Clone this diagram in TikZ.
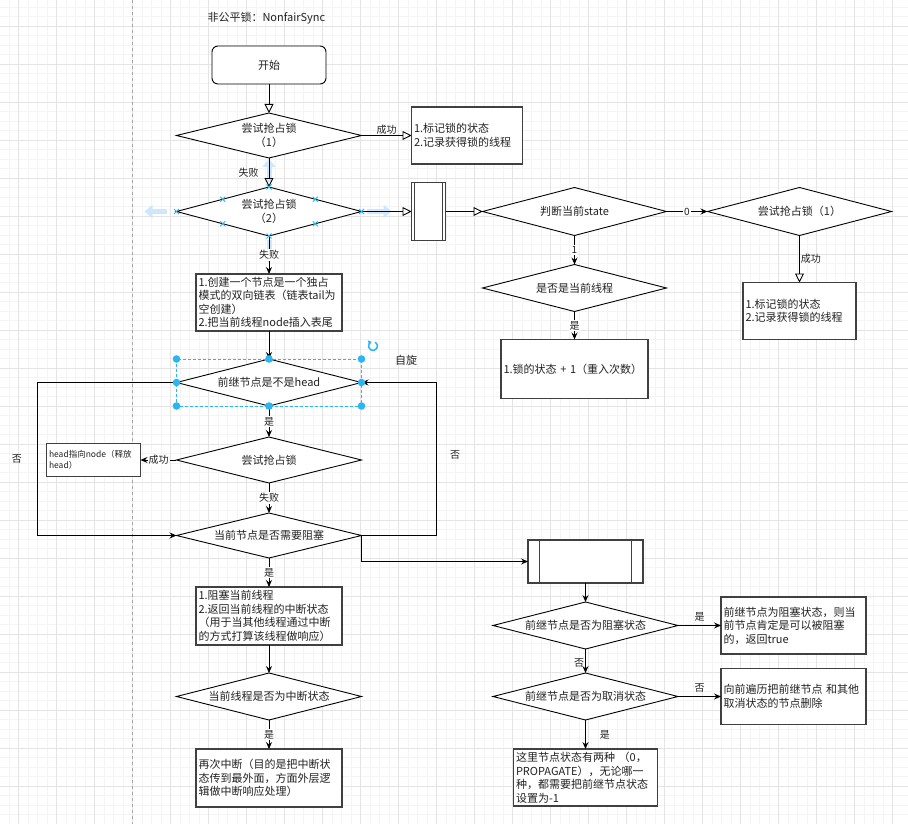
\documentclass[tikz,border=0pt]{standalone}
\usepackage{fontspec}
\setmainfont{Noto Sans CJK SC}
\usepackage{tikz}
\usetikzlibrary{arrows.meta,positioning,shapes.geometric}
\definecolor{selblue}{HTML}{29B6F2}
\definecolor{hoverblue}{HTML}{CFE7FA}
\definecolor{gridmaj}{HTML}{E4E4E4}
\definecolor{gridmin}{HTML}{F4F4F4}
\definecolor{ink}{HTML}{222222}

\begin{document}
\begin{tikzpicture}[x=1pt,y=-1pt,
    txt/.style={font=\fontsize{11}{13.5}\selectfont,text=ink},
    lbl/.style={font=\fontsize{10}{12}\selectfont,text=ink,fill=white,inner sep=1pt},
    startbox/.style={txt,draw=black,line width=0.9pt,rounded corners=6pt,fill=white,
                minimum width=114pt,minimum height=38pt,outer sep=0pt},
    box/.style={txt,draw=black!75,line width=1.2pt,fill=white,inner xsep=2.5pt,inner ysep=0pt,
                align=left,outer sep=0pt},
    dia/.style={txt,diamond,draw=black,line width=0.9pt,fill=white,aspect=4,inner sep=0pt,
                outer sep=0pt,align=center,minimum width=185pt,minimum height=47pt},
    sub/.style={draw=black!75,line width=1.2pt,fill=white,outer sep=0pt,
                path picture={\draw[black!75,line width=1pt]
                  ([xshift=#1]path picture bounding box.north west) -- ([xshift=#1]path picture bounding box.south west)
                  ([xshift=-#1]path picture bounding box.north east) -- ([xshift=-#1]path picture bounding box.south east);}},
    flow/.style={draw=black,line width=0.9pt,-{Stealth[length=7pt,width=6pt,inset=2.5pt]}},
    open/.style={draw=black,line width=0.9pt,-{Triangle[open,length=9pt,width=9pt]}},
    hover/.style={hoverblue,line width=5pt,-{Triangle[length=8pt,width=13pt]}},
    grip/.style={selblue,line width=0.8pt}
  ]
    \useasboundingbox (0,0) rectangle (908,824);
    \fill[white] (0,0) rectangle (908,824);
    \foreach \i in {0,...,96} \draw[gridmin,line width=0.6pt] ({-19.7+9.5*\i},0) -- ++(0,824);
    \foreach \i in {0,...,88} \draw[gridmin,line width=0.6pt] (0,{-12+9.5*\i}) -- ++(908,0);
    \foreach \i in {0,...,24} \draw[gridmaj,line width=0.7pt] ({-19.7+38*\i},0) -- ++(0,824);
    \foreach \i in {0,...,22} \draw[gridmaj,line width=0.7pt] (0,{-12+38*\i}) -- ++(908,0);
    \draw[black!35,line width=0.8pt,dash pattern=on 3pt off 3pt] (132.5,0) -- (132.5,824);

    \node[txt,anchor=west] (title) at (204,18) {非公平锁：NonfairSync};
    \node[startbox] (start) at (269,65) {开始};
    \node[dia,below=29pt of start,minimum height=45pt] (d1) {尝试抢占锁\\（1）};
    \node[dia,below=29pt of d1,minimum height=49pt] (d2) {尝试抢占锁\\（2）};
    \node[box,below=38pt of d2,text width=141pt,minimum height=57pt] (create)
      {1.创建一个节点是一个独占\\模式的双向链表（链表tail为\\空创建）\\2.把当前线程node插入表尾};
    \node[dia,below=28pt of create] (head) {前继节点是不是head};
    \node[dia,below=31pt of head,minimum height=46pt] (try3) {尝试抢占锁};
    \node[dia,below=30pt of try3,minimum height=45pt] (block) {当前节点是否需要阻塞};
    \node[box,below=29pt of block,text width=141pt,minimum height=58pt] (park)
      {1.阻塞当前线程\\2.返回当前线程的中断状态\\（用于当其他线程通过中断\\的方式打算该线程做响应）};
    \node[dia,below=28pt of park] (intr) {当前线程是否为中断状态};
    \node[box,below=29pt of intr,text width=141pt,minimum height=58pt] (reint)
      {再次中断（目的是把中断状\\态传到最外面，方面外层逻\\辑做中断响应处理）};

    \node[box,right=50pt of d1,text width=106pt,minimum height=57pt] (ok1) {1.标记锁的状态\\2.记录获得锁的线程};
    \node[sub=3pt,right=50pt of d2,minimum width=34pt,minimum height=58pt] (sub1) {};
    \node[dia,right=37pt of sub1,minimum width=184pt,minimum height=48pt] (state) {判断当前state};
    \node[dia,right=41pt of state,minimum width=184pt,minimum height=48pt] (retry) {尝试抢占锁（1）};
    \node[box,below=47pt of retry,text width=108pt,minimum height=57pt] (ok2) {1.标记锁的状态\\2.记录获得锁的线程};
    \node[dia,below=29pt of state,minimum width=184pt] (cur) {是否是当前线程};
    \node[box,below=28pt of cur,text width=142pt,minimum height=59pt] (reent) {1.锁的状态 + 1（重入次数）};
    \node[box,left=36pt of try3,text width=89pt,minimum height=33pt,font=\fontsize{8.5}{11}\selectfont] (headbox)
      {head指向node（释放\\head）};

    \node[sub=11.5pt,minimum width=115pt,minimum height=43pt] (sub2) at (585.5,561.5) {};
    \node[dia,below=19pt of sub2] (pblock) {前继节点是否为阻塞状态};
    \node[dia,below=24pt of pblock] (pcancel) {前继节点是否为取消状态};
    \node[box,below=29pt of pcancel,text width=139pt,minimum height=57pt] (setbox)
      {这里节点状态有两种 （0，\\PROPAGATE），无论哪一\\种，都需要把前继节点状态\\设置为-1};
    \node[box,right=43pt of pblock,text width=140pt,minimum height=57pt] (pblockbox)
      {前继节点为阻塞状态，则当\\前节点肯定是可以被阻塞\\的，返回true};
    \node[box,right=43pt of pcancel,text width=140pt,minimum height=56pt] (pcancelbox)
      {向前遍历把前继节点 和其他\\取消状态的节点删除};

    \coordinate (lloop) at (37,450);
    \coordinate (rloop) at (436,450);
    \coordinate (rot) at (373,346);

    \draw[hover] (d2.west) ++(-10,0) -- ++(-22,0);
    \draw[hover] (d2.east) ++(5,0) -- ++(25,0);
    \draw[hover] (d2.north) ++(0,-5) -- ++(0,-23);
    \draw[hover] (d2.south) ++(0,4) -- ++(0,23);

    \draw[open] (start) -- (d1);
    \draw[open] (d1) -- node[lbl,above=0pt,fill=none] {成功} (ok1);
    \draw[open] (d1) -- node[lbl,left=9pt,fill=none] {失败} (d2);
    \draw[open] (d2) -- (sub1);
    \draw[open] (sub1) -- (state);
    \draw[flow] (state) -- node[lbl] {0} (retry);
    \draw[open] (retry) -- node[lbl,anchor=west,fill=none] {成功} (ok2);
    \draw[flow] (state) -- node[lbl] {1} (cur);
    \draw[flow] (cur) -- node[lbl] {是} (reent);
    \draw[flow] (d2) -- node[lbl] {失败} (create);
    \draw[flow] (create) -- (head);
    \draw[flow] (head.west) -- (head.west -| lloop) |- (block.west);
    \draw[flow] (block.east) -- (block.east -| rloop) |- (head.east);
    \draw[flow] (head) -- node[lbl] {是} (try3);
    \draw[flow] (try3) -- node[lbl] {成功} (headbox);
    \draw[flow] (try3) -- node[lbl] {失败} (block);
    \draw[flow] (block.east) |- (sub2.west);
    \draw[flow] (block) -- node[lbl] {是} (park);
    \draw[flow] (park) -- (intr);
    \draw[flow] (intr) -- node[lbl] {是} (reint);
    \draw[flow] (sub2) -- (pblock);
    \draw[flow] (pblock) -- node[lbl,above=3pt,fill=none] {是} (pblockbox);
    \draw[flow] (pblock) -- node[lbl,anchor=east,pos=0.6,fill=none] {否} (pcancel);
    \draw[flow] (pcancel) -- node[lbl,above=3pt,fill=none] {否} (pcancelbox);
    \draw[flow] (pcancel) -- node[lbl,anchor=west,xshift=13pt,fill=none] {是} (setbox);

    \node[lbl,fill=none] (noleft) at (17,459) {否};
    \node[lbl,fill=none] (noright) at (455,455) {否};
    \node[txt] (spin) at (406,360) {自旋};

    \foreach \a in {north,south,east,west,north west,north east,south west,south east}
      \draw[grip] (d2.\a) ++(-2.5,-2.5) -- ++(5,5) ++(-5,0) -- ++(5,-5);
    \coordinate (sela) at (head.west |- head.north);
    \coordinate (selb) at (head.east |- head.south);
    \draw[grip,dash pattern=on 3pt off 2pt] (sela) rectangle (selb);
    \foreach \c in {sela,head.north,sela -| head.east,head.west,head.east,selb -| head.west,head.south,selb}
      \fill[selblue] (\c) circle[radius=3.8pt];
    \draw[selblue,line width=1.5pt,-{Triangle[length=3pt,width=5pt]}]
      (rot) ++(60:4.5pt) arc[start angle=60,end angle=-250,radius=4.5pt];
  \end{tikzpicture}
\end{document}
